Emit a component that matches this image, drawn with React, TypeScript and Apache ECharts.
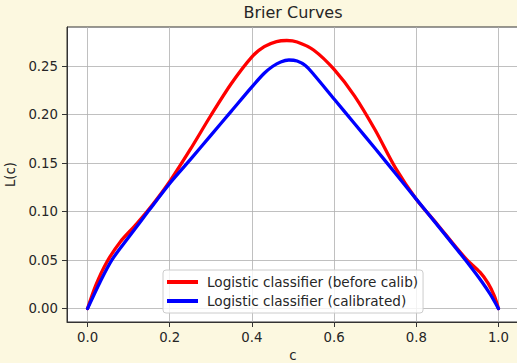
import React, { useEffect, useRef } from "react";
import * as echarts from "echarts";

const titleText = "Brier Curves";
const xName = "c";
const yName = "L(c)";
const xTicks = [0, 0.2, 0.4, 0.6, 0.8, 1.0];
const yTicks = [0, 0.05, 0.1, 0.15, 0.2, 0.25];

const redName = "Logistic classifier (before calib)";
const redC = [0, 0.02, 0.047, 0.08, 0.12, 0.16, 0.2, 0.25, 0.3, 0.35, 0.4, 0.43, 0.46, 0.485, 0.51, 0.55, 0.6, 0.65, 0.7, 0.75, 0.8, 0.85, 0.9, 0.924, 0.955, 0.975, 0.99, 1];
const redL = [0, 0.024, 0.048, 0.069, 0.0875, 0.108, 0.131, 0.164, 0.199, 0.232, 0.2595, 0.27, 0.2752, 0.2763, 0.2748, 0.2665, 0.2465, 0.219, 0.184, 0.1445, 0.1128, 0.0875, 0.0615, 0.05, 0.0375, 0.026, 0.013, 0];

const blueName = "Logistic classifier (calibrated)";
const blueC = [0, 0.03, 0.059, 0.1, 0.15, 0.2, 0.25, 0.3, 0.35, 0.4, 0.43, 0.45, 0.47, 0.49, 0.51, 0.53, 0.55, 0.6, 0.65, 0.7, 0.75, 0.8, 0.85, 0.9, 0.93, 0.96, 0.98, 1];
const blueL = [0, 0.027, 0.05, 0.0735, 0.1015, 0.129, 0.1535, 0.1785, 0.2035, 0.2285, 0.2425, 0.2495, 0.2542, 0.2562, 0.2552, 0.2505, 0.2415, 0.216, 0.1905, 0.165, 0.139, 0.1128, 0.0868, 0.0605, 0.0445, 0.0275, 0.0148, 0];

const FONT = "DejaVu Sans";
const TXT = "#262626";

export default function App() {
  const ref = useRef<HTMLDivElement>(null);
  useEffect(() => {
    if (!ref.current) return;
    const chart = echarts.init(ref.current, undefined, { renderer: "svg" });
    const red = redC.map((c, i) => [c, redL[i]]);
    const blue = blueC.map((c, i) => [c, blueL[i]]);
    chart.setOption({
      animation: false,
      backgroundColor: "#fcf8e0",
      textStyle: { fontFamily: FONT },
      title: {
        text: titleText,
        left: 293,
        textAlign: "center",
        top: 4,
        padding: 0,
        textStyle: { fontFamily: FONT, fontSize: 16, fontWeight: "normal", color: TXT },
      },
      grid: {
        left: 67,
        top: 27,
        width: 452,
        height: 295,
        show: true,
        containLabel: false,
        outerBoundsMode: "none",
        backgroundColor: "#ffffff",
        borderColor: "#333",
        borderWidth: 1,
      },
      legend: {
        orient: "vertical",
        left: 163,
        top: 270,
        icon: "rect",
        itemWidth: 31,
        itemHeight: 4,
        itemGap: 3,
        padding: [4, 5, 4, 4],
        backgroundColor: "rgba(255,255,255,0.8)",
        borderColor: "#cccccc",
        borderWidth: 1,
        borderRadius: 3,
        textStyle: { fontFamily: FONT, fontSize: 13.6, color: TXT, padding: [0, 0, 0, 4], lineHeight: 16 },
        data: [redName, blueName],
      },
      xAxis: {
        type: "value",
        min: -0.05,
        max: 1.05,
        name: xName,
        nameLocation: "middle",
        nameGap: 27,
        nameTextStyle: { fontFamily: FONT, fontSize: 13.3, lineHeight: 13, color: TXT },
        axisLine: { show: true, onZero: false, lineStyle: { color: "#333" } },
        axisTick: { show: true, length: 5, customValues: xTicks, lineStyle: { color: "#333" } },
        axisLabel: {
          customValues: xTicks,
          margin: 9,
          fontFamily: FONT,
          fontSize: 13.3,
          color: TXT,
          formatter: (v: number) => v.toFixed(1),
        },
        splitLine: { show: true, lineStyle: { color: "#b0b0b0", width: 0.8 } },
      },
      yAxis: {
        type: "value",
        min: -0.0138,
        max: 0.2902,
        name: yName,
        nameLocation: "middle",
        nameGap: 46,
        nameRotate: 90,
        nameTextStyle: { fontFamily: FONT, fontSize: 13.3, color: TXT },
        axisLine: { show: true, onZero: false, lineStyle: { color: "#333" } },
        axisTick: { show: true, length: 5, customValues: yTicks, lineStyle: { color: "#333" } },
        axisLabel: {
          customValues: yTicks,
          margin: 9,
          fontFamily: FONT,
          fontSize: 13.3,
          color: TXT,
          formatter: (v: number) => v.toFixed(2),
        },
        splitLine: { show: true, lineStyle: { color: "#b0b0b0", width: 0.8 } },
      },
      series: [
        {
          name: redName,
          type: "line",
          data: red,
          smooth: 0.3,
          showSymbol: false,
          color: "#ff0000",
          lineStyle: { color: "#ff0000", width: 3.3, cap: "round", join: "round" },
          z: 2,
        },
        {
          name: blueName,
          type: "line",
          data: blue,
          smooth: 0.3,
          showSymbol: false,
          color: "#0000ff",
          lineStyle: { color: "#0000ff", width: 3.3, cap: "round", join: "round" },
          z: 3,
        },
      ],
    });
    return () => chart.dispose();
  }, []);
  return (
    <div
      ref={ref}
      style={{ position: "fixed", left: 0, top: 0, width: 517, height: 363 }}
    />
  );
}
